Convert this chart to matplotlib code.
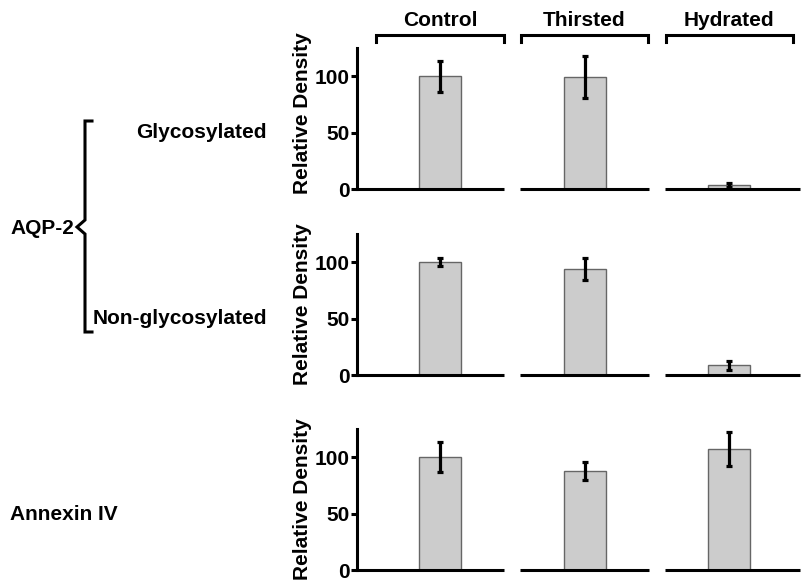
import matplotlib
matplotlib.use("Agg")
import matplotlib.pyplot as plt
import matplotlib.transforms as mtransforms
from matplotlib.lines import Line2D

plt.rcParams["font.family"] = ["Liberation Sans", "DejaVu Sans"]
plt.rcParams["font.weight"] = "bold"

groups = ["Control", "Thirsted", "Hydrated"]
row_labels = ["Glycosylated", "Non-glycosylated", "Annexin IV"]

glyco_mean = [100, 99.5, 3.5]
glyco_err = [13.5, 18.5, 2]
nonglyco_mean = [100, 94, 8.5]
nonglyco_err = [3.5, 9.5, 4.3]
annexin_mean = [100, 87.5, 107.5]
annexin_err = [13.5, 8, 15]

yticks = [0, 50, 100]

FS = 15
LW = 2.2
BAR_W = 0.29

fig = plt.figure(figsize=(8.01, 5.80), dpi=100)

# (means, errors, axes bottom, y-label centre)
rows = [
    (glyco_mean, glyco_err, 0.674, 0.54),
    (nonglyco_mean, nonglyco_err, 0.3534, 0.5),
    (annexin_mean, annexin_err, 0.0172, 0.5),
]

axes = []
for means, errs, bottom, label_y in rows:
    ax = fig.add_axes([0.4457, bottom, 0.553, 0.243])
    x = list(range(len(groups)))
    ax.bar(x, means, width=BAR_W, color="#cccccc", edgecolor="#666666",
           linewidth=1.0, zorder=2)
    ax.errorbar(x, means, yerr=errs, fmt="none", ecolor="black",
                elinewidth=2.3, capsize=2.5, capthick=2.3, zorder=3)
    ax.set_xlim(-0.574, 2.49)
    ax.set_ylim(0, 125)
    ax.set_yticks(yticks)
    ax.set_xticks([])
    for side in ["top", "right", "bottom"]:
        ax.spines[side].set_visible(False)
    ax.spines["left"].set_linewidth(LW)
    ax.tick_params(axis="y", length=4, width=LW, labelsize=FS, pad=1.5)
    for lab in ax.get_yticklabels():
        lab.set_fontweight("bold")
    ax.set_ylabel("Relative Density", fontsize=FS, fontweight="bold")
    ax.yaxis.set_label_coords(-0.1016, label_y)

    # broken baseline: one segment per group
    lo, hi = ax.get_xlim()
    edges = [lo] + [i + 0.5 for i in range(len(groups) - 1)] + [hi]
    gap = 0.055
    for i in range(len(groups)):
        x0 = edges[i] + (gap if i > 0 else 0)
        x1 = edges[i + 1] - (gap if i < len(groups) - 1 else 0)
        ax.hlines(0, x0, x1, color="black", linewidth=LW, clip_on=False, zorder=4)
    axes.append(ax)

# group brackets and names above the top row
top = axes[0]
trans = mtransforms.blended_transform_factory(top.transData, top.transAxes)
for i, name in enumerate(groups):
    top.add_line(Line2D([i - 0.44, i - 0.44, i + 0.44, i + 0.44],
                        [1.043, 1.092, 1.092, 1.043], transform=trans,
                        color="black", linewidth=LW, clip_on=False,
                        solid_joinstyle="miter"))
    top.text(i, 1.199, name, transform=trans, ha="center", va="center",
             fontsize=FS, fontweight="bold")

# row labels on the left
fig.text(267 / 801, 1 - 132 / 580, row_labels[0], ha="right", va="center",
         fontsize=FS, fontweight="bold")
fig.text(267 / 801, 1 - 318 / 580, row_labels[1], ha="right", va="center",
         fontsize=FS, fontweight="bold")
fig.text(10 / 801, 1 - 515 / 580, row_labels[2], ha="left", va="center",
         fontsize=FS, fontweight="bold")
fig.text(10 / 801, 1 - 228 / 580, "AQP-2", ha="left", va="center",
         fontsize=FS, fontweight="bold")

# brace grouping the two AQP-2 rows
bx = [92, 85, 85, 77, 85, 85, 92]
by = [121, 121, 220, 227, 234, 332, 332]
fig.add_artist(Line2D([v / 801 for v in bx], [1 - v / 580 for v in by],
                      transform=fig.transFigure, color="black", linewidth=LW,
                      solid_joinstyle="miter"))

fig.savefig("out.png", dpi=100)
